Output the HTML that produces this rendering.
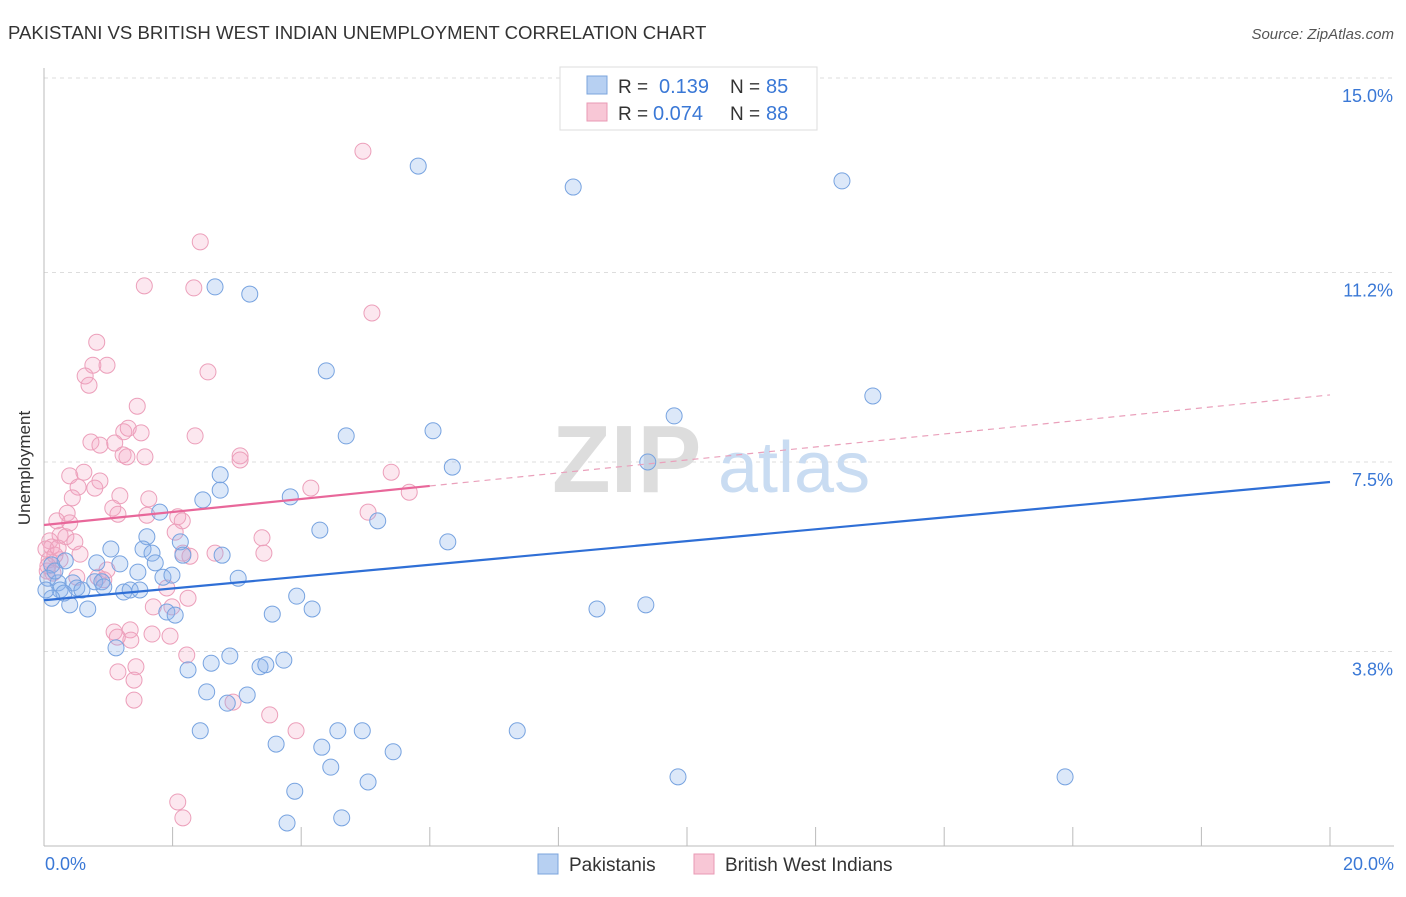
<!DOCTYPE html>
<html><head><meta charset="utf-8"><style>
body{margin:0;background:#fff;font-family:"Liberation Sans",sans-serif;}
svg text{font-family:"Liberation Sans",sans-serif;}
</style></head><body>
<svg id="chart" width="1406" height="892">
<text x="8" y="39" font-size="18.6" fill="#333">PAKISTANI VS BRITISH WEST INDIAN UNEMPLOYMENT CORRELATION CHART</text>
<text x="1394" y="39" font-size="15" fill="#555" font-style="italic" text-anchor="end">Source: ZipAtlas.com</text>
<g id="grid"></g>
<g>
<text x="552" y="492" font-size="96" fill="#ddd" font-family="Liberation Serif,serif" font-weight="bold">ZIP</text>
<text x="718" y="492" font-size="72" fill="#c9dcf2">atlas</text></g>
<line x1="44" y1="68" x2="44" y2="846" stroke="#bbb"/>
<line x1="44" y1="846" x2="1394" y2="846" stroke="#bbb"/>
<g id="ticks"></g>
<g id="pts"></g>
<g id="trend"></g>
<text x="18" y="456" font-size="17" fill="#333" transform="rotate(-90 30 456)" text-anchor="middle">Unemployment</text>
<text x="45" y="870" font-size="18" fill="#3a78d6">0.0%</text>
<text x="1394" y="870" font-size="18" fill="#3a78d6" text-anchor="end">20.0%</text>
<g>
<rect x="560" y="67" width="257" height="63" fill="#fff" stroke="#ddd"/>
<rect x="587" y="76" width="20" height="18" fill="#b7d0f2" stroke="#7ba4dc"/>
<rect x="587" y="103" width="20" height="18" fill="#f8c7d6" stroke="#e99ab4"/>
<text x="618" y="93" font-size="19" fill="#333">R =</text>
<text x="659" y="93" font-size="20" fill="#3a78d6">0.139</text>
<text x="730" y="93" font-size="19" fill="#333">N =</text>
<text x="766" y="93" font-size="20" fill="#3a78d6">85</text>
<text x="618" y="120" font-size="19" fill="#333">R =</text>
<text x="653" y="120" font-size="20" fill="#3a78d6">0.074</text>
<text x="730" y="120" font-size="19" fill="#333">N =</text>
<text x="766" y="120" font-size="20" fill="#3a78d6">88</text>
</g>
<g>
<rect x="538" y="854" width="20" height="20" fill="#b7d0f2" stroke="#7ba4dc"/>
<text x="569" y="871" font-size="19" fill="#333">Pakistanis</text>
<rect x="694" y="854" width="20" height="20" fill="#f8c7d6" stroke="#e99ab4"/>
<text x="725" y="871" font-size="19" fill="#333">British West Indians</text>
</g>
</svg>
<script>
const yTicks=[15.0,11.2,7.5,3.8];
const yTickLabels=["15.0%","11.2%","7.5%","3.8%"];
const xTicks=[0,2,4,6,8,10,12,14,16,18,20];
const blueX=[5.82,8.23,12.41,2.66,3.20,4.39,12.89,9.80,4.70,6.05,9.39,6.35,2.74,2.74,2.47,3.83,1.80,5.19,4.29,1.60,6.28,1.04,1.54,1.68,1.73,2.12,2.16,2.77,0.82,1.18,0.33,0.12,0.06,0.22,0.45,0.51,0.79,0.90,0.93,1.24,1.34,1.49,1.46,1.85,1.99,3.02,0.25,0.31,0.12,0.40,0.68,1.91,2.04,3.55,3.93,4.17,8.60,9.36,1.12,2.24,2.60,2.89,3.36,3.45,3.73,2.53,3.16,2.85,2.43,3.61,4.32,4.57,4.95,5.43,7.36,4.46,5.04,9.86,15.88,3.90,3.78,4.63,0.03,0.17,0.59];
const blueY=[13.28,12.87,12.99,10.92,10.78,9.28,8.79,8.40,8.01,8.11,7.50,7.40,7.25,6.95,6.76,6.82,6.52,6.35,6.17,6.04,5.94,5.80,5.80,5.72,5.53,5.94,5.68,5.68,5.53,5.51,5.57,5.49,5.23,5.14,5.14,5.04,5.16,5.16,5.06,4.96,5.00,5.00,5.35,5.25,5.29,5.23,5.00,4.94,4.84,4.71,4.63,4.57,4.51,4.53,4.88,4.63,4.63,4.71,3.87,3.44,3.57,3.71,3.50,3.54,3.63,3.01,2.95,2.79,2.25,1.99,1.93,2.25,2.25,1.84,2.25,1.54,1.25,1.35,1.35,1.07,0.45,0.55,5.00,5.37,5.00];
const pinkX=[4.96,2.43,1.56,2.33,5.10,0.82,0.76,0.98,0.64,0.70,2.55,1.45,2.35,0.73,0.87,1.24,1.31,1.51,1.10,1.23,1.29,1.57,3.05,3.05,5.40,0.62,0.40,0.87,0.53,0.79,0.44,1.18,1.63,4.15,5.68,1.07,1.15,0.36,1.60,2.08,2.15,5.04,3.39,0.20,0.40,0.25,0.34,0.48,0.09,0.12,0.56,2.04,2.16,2.27,2.66,3.42,0.08,0.25,0.05,0.14,0.98,0.51,0.84,0.93,1.91,2.24,1.70,1.99,1.09,1.34,1.68,1.96,1.35,1.14,2.22,1.43,1.15,1.40,1.40,2.94,3.51,3.92,2.08,2.16,0.03,0.17,0.06,0.22];
const pinkY=[13.57,11.80,10.94,10.90,10.41,9.84,9.39,9.39,9.18,9.00,9.26,8.59,8.01,7.89,7.83,8.09,8.16,8.07,7.87,7.64,7.60,7.60,7.62,7.54,7.30,7.30,7.23,7.13,7.01,6.99,6.80,6.84,6.78,6.99,6.91,6.60,6.48,6.50,6.46,6.43,6.35,6.52,6.02,6.35,6.31,6.07,6.04,5.94,5.96,5.84,5.70,6.13,5.72,5.66,5.72,5.72,5.59,5.59,5.37,5.33,5.39,5.25,5.25,5.20,5.04,4.84,4.67,4.67,4.18,4.22,4.14,4.10,4.02,4.08,3.73,3.50,3.40,3.24,2.85,2.81,2.56,2.25,0.86,0.55,5.80,5.68,5.47,5.82];
const blueTrend=[4.80,7.11];
const pinkTrend=[6.27,8.81];
const pinkSolidEnd=6.0;
const NS="http://www.w3.org/2000/svg";
const xs=v=>44+v*64.3;
const ys=v=>846-v*51.2;
function mk(tag,attrs,parent){const e=document.createElementNS(NS,tag);for(const k in attrs)e.setAttribute(k,attrs[k]);parent.appendChild(e);return e;}
const grid=document.getElementById('grid');
yTicks.forEach((t,i)=>{
 const l=mk('line',{x1:44,x2:1394,y1:ys(t),y2:ys(t),stroke:'#ddd','stroke-dasharray':'4,4'},grid);
 
 
 const tx=mk('text',{x:1393,y:ys(t)+24,'font-size':18,fill:'#3a78d6','text-anchor':'end'},grid);
 tx.textContent=yTickLabels[i];
 
 
});
const tk=document.getElementById('ticks');
xTicks.forEach(t=>{
 const l=mk('line',{x1:xs(t),x2:xs(t),y1:827,y2:846,stroke:'#bbb'},tk);
 
 
});
const pts=document.getElementById('pts');
function series(X,Y,fill,stroke,name){
 X.forEach((x,i)=>{
  const c=mk('circle',{cx:xs(x),cy:ys(Y[i]),r:8,fill:fill,stroke:stroke,'stroke-width':1},pts);
  
  
 });
}
series(pinkX,pinkY,'rgba(246,170,196,0.28)','#ec9fba','british-west-indian-point');
series(blueX,blueY,'rgba(140,180,236,0.3)','#77a3e0','pakistani-point');
const tr=document.getElementById('trend');
const b=mk('line',{x1:xs(0),y1:ys(blueTrend[0]),x2:xs(20),y2:ys(blueTrend[1]),stroke:'#2f6fd6','stroke-width':2.2},tr);


const py=v=>pinkTrend[0]+(pinkTrend[1]-pinkTrend[0])*v/20;
const p1=mk('line',{x1:xs(0),y1:ys(py(0)),x2:xs(pinkSolidEnd),y2:ys(py(pinkSolidEnd)),stroke:'#e8679a','stroke-width':2.2},tr);


const p2=mk('line',{x1:xs(pinkSolidEnd),y1:ys(py(pinkSolidEnd)),x2:xs(20),y2:ys(py(20)),stroke:'#eaa0bb','stroke-width':1.2,'stroke-dasharray':'6,5'},tr);


</script>
</body></html>
